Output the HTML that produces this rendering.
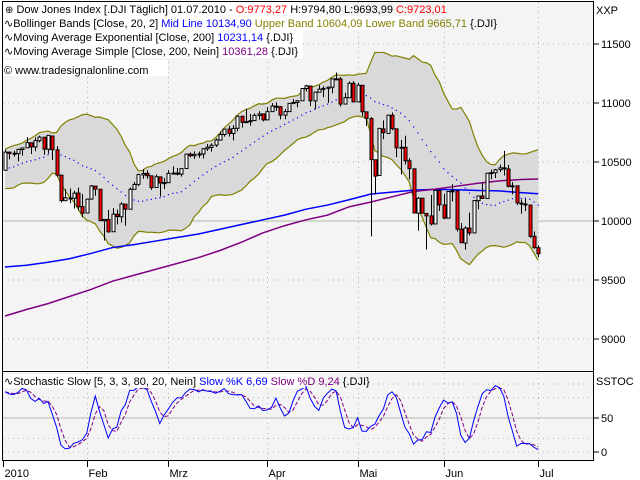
<!DOCTYPE html>
<html><head><meta charset="utf-8"><style>
body{margin:0;background:#fff;}
svg{display:block;font-family:"Liberation Sans",sans-serif;font-size:11px;}
</style></head><body>
<svg id="chart" width="640" height="480" viewBox="0 0 640 480">
<rect x="0" y="0" width="640" height="480" fill="#ffffff"/>
<rect x="3" y="2" width="590" height="368" fill="#f4f4f4"/>
<rect x="3" y="373" width="590" height="87" fill="#f4f4f4"/>
<g id="grid"></g>
<g id="bands"></g>
<g id="mas"></g>
<g id="candles"></g>
<g id="stoch"></g>
<g id="axes"></g>
<g id="legend">
<rect x="3" y="2" width="336" height="14" fill="#fff"/>
<rect x="3" y="16" width="414" height="14" fill="#fff"/>
<rect x="3" y="30" width="300" height="14" fill="#fff"/>
<rect x="3" y="44" width="300" height="14" fill="#fff"/>
<rect x="3" y="60" width="165" height="16" fill="#fff"/>
<text x="5" y="13"><tspan font-size="10">⊕</tspan> Dow Jones Index [.DJI  Täglich] 01.07.2010 - <tspan fill="#ff0000">O:9773,27</tspan> H:9794,80 L:9693,99 <tspan fill="#ff0000">C:9723,01</tspan></text>
<text x="4" y="27">∿Bollinger Bands [Close, 20, 2] <tspan fill="#0000ff">Mid Line 10134,90</tspan> <tspan fill="#808000">Upper Band 10604,09</tspan> <tspan fill="#808000">Lower Band 9665,71</tspan> {.DJI}</text>
<text x="4" y="41">∿Moving Average Exponential [Close, 200] <tspan fill="#0000ff">10231,14</tspan> {.DJI}</text>
<text x="4" y="55">∿Moving Average Simple [Close, 200, Nein] <tspan fill="#800080">10361,28</tspan> {.DJI}</text>
<text x="4" y="74">© www.tradesignalonline.com</text>
<rect x="3" y="374" width="302" height="14" fill="#fff"/>
<text x="4" y="385">∿Stochastic Slow [5, 3, 3, 80, 20, Nein] <tspan fill="#0000ff">Slow %K 6,69</tspan> <tspan fill="#800080">Slow %D 9,24</tspan> {.DJI}</text>
<text x="596" y="14">XXP</text>
<text x="596" y="385">SSTOC</text>
</g>
</svg>
<script>
const opens=[10430,10584,10573,10571,10606,10620,10663,10628,10680,10710,10608,10720,10603,10388,10172,10195,10193,10237,10122,
10068,10186,10296,10269,10002,10012,9909,10057,10036,10143,10100,10269,10310,10390,10403,10383,10284,10374,10322,
10325,10404,10406,10397,10445,10567,10553,10565,10568,10612,10624,10643,10686,10733,10779,10742,10786,10888,10836,10842,10851,10895,10907,
10857,10927,10973,10968,10897,10927,10997,11005,11019,11123,11144,11018,11092,11117,11124,11134,11204,11204,10991,11045,11167,
11009,11150,10925,10868,10519,10386,10780,10742,10896,10781,10620,10625,10510,10442,10066,10193,10064,10043,9975,10258,
10136,10024,10249,10255,9931,9813,9940,9899,10172,10212,10191,10404,10409,10435,10451,10441,10293,10298,10152,10144,10135,9870,
9773];
const highs=[10604,10584,10595,10612,10619,10710,10663,10709,10723,10710,10729,10720,10635,10388,10270,10275,10255,10283,10229,
10190,10305,10296,10269,10016,10094,10110,10096,10159,10143,10284,10330,10401,10440,10430,10383,10395,10374,10365,
10430,10464,10450,10446,10568,10580,10590,10589,10615,10654,10658,10700,10759,10779,10807,10813,10895,10888,10950,10908,10912,10930,10907,
10965,10999,11005,10975,10950,10997,11034,11024,11124,11154,11144,11096,11150,11141,11140,11208,11258,11220,11087,11182,11185,
11172,11150,10925,10880,10519,10786,10853,10900,10920,10781,10688,10722,10533,10442,10203,10193,10064,10220,10259,10258,
10230,10250,10311,10255,9982,9955,10071,10173,10212,10322,10405,10436,10442,10478,10594,10476,10329,10298,10183,10187,10135,9911,
9795];
const lows=[10430,10522,10546,10505,10554,10620,10568,10591,10666,10561,10572,10517,10374,10158,10172,10150,10106,10089,10033,
10068,10180,10214,9998,9835,9901,9909,9971,9987,9960,10100,10269,10294,10358,10358,10264,10284,10207,10270,
10325,10399,10387,10376,10445,10540,10527,10535,10530,10594,10588,10627,10686,10715,10716,10683,10761,10792,10836,10808,10851,10860,10844,
10857,10924,10932,10861,10862,10926,10990,10963,11019,11098,10973,10948,11092,11050,11001,11083,11193,10970,10991,11045,11005,
11009,10889,10804,9870,10227,10386,10694,10742,10769,10541,10394,10480,10352,10068,9918,10065,9758,9961,9975,10085,
10015,10024,10166,9911,9816,9757,9878,9899,10100,10186,10191,10354,10364,10415,10386,10285,10226,10136,10063,10085,9856,9765,
9694];
const closes=[10584,10573,10574,10607,10619,10664,10628,10681,10711,10610,10726,10604,10389,10173,10197,10194,10236,10121,10067,
10185,10297,10270,10003,10013,9908,10058,10038,10144,10100,10269,10310,10393,10403,10383,10283,10375,10322,10325,
10404,10406,10397,10444,10567,10553,10565,10568,10612,10625,10642,10686,10733,10779,10742,10785,10888,10836,10842,10850,10895,10907,10857,
10927,10974,10970,10897,10927,10997,11005,11019,11123,11145,11019,11092,11117,11124,11134,11204,11205,10991,11045,11167,11009,
11151,10926,10868,10520,10380,10785,10749,10897,10782,10620,10625,10510,10444,10068,10193,10067,10043,9975,10259,10137,
10025,10250,10255,9931,9816,9940,9899,10173,10212,10191,10405,10410,10434,10450,10442,10294,10298,10153,10144,10139,9870,9774,
9723];
// closes of the 19 sessions before the chart (Dec 2009), for the 20-day Bollinger window
const priorCloses=[10390,10390,10286,10338,10405,10471,10501,10452,10441,10308,10329,10414,10464,10467,10521,10547,10545,10548,10428];
// 200-day averages, every 5th session (last at index 124)
const maIndex=[0,5,10,15,20,25,30,35,40,45,50,55,60,65,70,75,80,85,90,95,100,105,110,115,120,124];
const emaValues=[9610,9625,9650,9680,9725,9775,9800,9830,9860,9890,9930,9970,10010,10050,10100,10135,10180,10228,10245,10262,10268,10265,10258,10255,10240,10231];
const smaValues=[9195,9250,9300,9360,9420,9490,9540,9590,9640,9690,9750,9820,9900,9960,10010,10050,10120,10160,10205,10250,10270,10295,10320,10340,10352,10356];
const priceTicks=[9000,9500,10000,10500,11000,11500];
const stochTicks=[0,50];
const monthLabels=["2010","Feb","Mrz","Apr","Mai","Jun","Jul"];
const monthStartIndex=[0,19,38,61,82,102,124];

const NS="http://www.w3.org/2000/svg";
function mk(tag,attrs,parent){const e=document.createElementNS(NS,tag);for(const k in attrs)e.setAttribute(k,attrs[k]);parent.appendChild(e);return e;}
const xOf=i=>5+i*4.3;
const yOf=v=>221-(v-10000)*0.118;
const ySt=v=>452-v*0.68;
const G=id=>document.getElementById(id);

// grid
const grid=G('grid');
priceTicks.forEach(t=>{
 const l=mk('line',{x1:3,x2:593,y1:yOf(t),y2:yOf(t),stroke:t===10000?'#b0bca8':'#b4b4b4','stroke-dasharray':t===10000?'':'1,4'},grid);
 
 
});
[0,20,80,100].forEach(t=>{
 const l=mk('line',{x1:3,x2:593,y1:ySt(t),y2:ySt(t),stroke:'#b4b4b4','stroke-dasharray':'1,4'},grid);
 
 
});
const l50=mk('line',{x1:3,x2:593,y1:ySt(50),y2:ySt(50),stroke:'#b0bca8'},grid);


monthStartIndex.slice(1).forEach(i=>{
 const x=Math.round(xOf(i))+0.5;
 const a=mk('line',{x1:x,x2:x,y1:2,y2:370,stroke:'#b4b4b4','stroke-dasharray':'1,4'},grid);
 
 
 const b=mk('line',{x1:x,x2:x,y1:373,y2:460,stroke:'#b4b4b4','stroke-dasharray':'1,4'},grid);
 
 
});

// bollinger
const all=priorCloses.concat(closes),P=priorCloses.length;
const mid=[],up=[],lo=[];
for(let i=0;i<closes.length;i++){
 const w=all.slice(i+P-19,i+P+1);const m=w.reduce((a,b)=>a+b,0)/w.length;
 const sd=Math.sqrt(w.reduce((a,b)=>a+(b-m)*(b-m),0)/w.length);
 mid.push(m);up.push(m+2*sd);lo.push(m-2*sd);
}
const bands=G('bands');
let pUp=up.map((v,i)=>xOf(i)+','+yOf(v)),pLo=lo.map((v,i)=>xOf(i)+','+yOf(v));
const fill=mk('polygon',{points:pUp.concat(pLo.slice().reverse()).join(' '),fill:'#d9d9d9'},bands);


const ub=mk('polyline',{points:pUp.join(' '),fill:'none',stroke:'#808000','stroke-width':1.2},bands);


const lb=mk('polyline',{points:pLo.join(' '),fill:'none',stroke:'#808000','stroke-width':1.2},bands);


mid.forEach((v,i)=>{
 const d=mk('rect',{x:xOf(i)-0.5,y:yOf(v)-0.5,width:1.2,height:1.2,fill:'#0000ff'},bands);
 
 
});

// moving averages
const mas=G('mas');
const ema=mk('polyline',{points:maIndex.map((ix,k)=>xOf(ix)+','+yOf(emaValues[k])).join(' '),fill:'none',stroke:'#0000ff','stroke-width':1.5},mas);


const sma=mk('polyline',{points:maIndex.map((ix,k)=>xOf(ix)+','+yOf(smaValues[k])).join(' '),fill:'none',stroke:'#800080','stroke-width':1.5},mas);



// candles
const cg=G('candles');
closes.forEach((c,i)=>{
 const o=opens[i],x=Math.round(xOf(i))+0.5;
 const w=mk('line',{x1:x,x2:x,y1:yOf(highs[i]),y2:yOf(lows[i]),stroke:'#000'},cg);
 
 
 const top=yOf(Math.max(o,c)),bot=yOf(Math.min(o,c));
 const b=mk('rect',{x:x-1.5,y:top,width:3,height:Math.max(1,bot-top),fill:c>=o?'#ffffff':'#ff0000',stroke:'#000','stroke-width':1},cg);
 
 
});

// stochastic slow 5,3,3
const raw=[];
for(let i=0;i<closes.length;i++){
 const s=Math.max(0,i-4);const hh=Math.max(...highs.slice(s,i+1)),ll=Math.min(...lows.slice(s,i+1));
 raw.push({h:hh-ll,c:closes[i]-ll});
}
const K=[],D=[];
for(let i=0;i<closes.length;i++){
 const s=Math.max(0,i-2);let num=0,den=0;for(let j=s;j<=i;j++){num+=raw[j].c;den+=raw[j].h;}
 K.push(den?100*num/den:50);
}
for(let i=0;i<K.length;i++){const s=Math.max(0,i-2);const w=K.slice(s,i+1);D.push(w.reduce((a,b)=>a+b,0)/w.length);}
const sg=G('stoch');
const dl=mk('polyline',{points:D.map((v,i)=>xOf(i)+','+ySt(v)).join(' '),fill:'none',stroke:'#800080','stroke-width':1,'stroke-dasharray':'4,2'},sg);


const kl=mk('polyline',{points:K.map((v,i)=>xOf(i)+','+ySt(v)).join(' '),fill:'none',stroke:'#0000ff','stroke-width':1},sg);



// axes
const ax=G('axes');
[[2.5,2,2.5,461],[593.5,2,593.5,371],[593.5,372,593.5,461],[2,371.5,594,371.5],[2,460.5,594,460.5],[2,1.5,594,1.5]].forEach(a=>{
 const l=mk('line',{x1:a[0],y1:a[1],x2:a[2],y2:a[3],stroke:'#000'},ax);
 
 
});
priceTicks.forEach(t=>{
 const tk=mk('line',{x1:593,x2:599,y1:yOf(t),y2:yOf(t),stroke:'#000'},ax);
 
 
 const tx=mk('text',{x:601,y:yOf(t)+4},ax);tx.textContent=t;
 
 
});
stochTicks.forEach(t=>{
 const tk=mk('line',{x1:593,x2:599,y1:ySt(t),y2:ySt(t),stroke:'#000'},ax);
 
 
 const tx=mk('text',{x:601,y:ySt(t)+4},ax);tx.textContent=t;
 
 
});
monthLabels.forEach((m,k)=>{
 const x=Math.round(xOf(monthStartIndex[k]))-(k===0?2:0)+0.5;
 const tk=mk('line',{x1:x,x2:x,y1:461,y2:467,stroke:'#000'},ax);
 
 
 const tx=mk('text',{x:x+1,y:477},ax);tx.textContent=m;
 
 
});
</script>
</body></html>
